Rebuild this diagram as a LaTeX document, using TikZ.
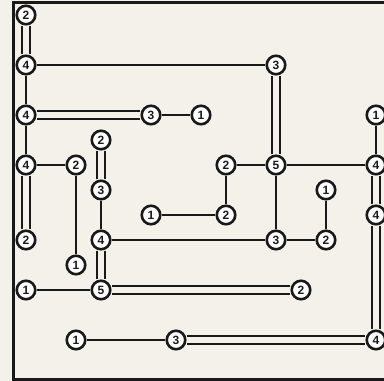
\documentclass[tikz,border=0pt]{standalone}
\usepackage{fontspec}
\setmainfont{Liberation Sans}
\definecolor{paper}{RGB}{243,241,234}
\definecolor{ink}{RGB}{25,25,25}
\tikzset{
  isle/.style={circle,draw=ink,line width=2.6pt,fill=white,minimum size=18.5pt,
    inner sep=0pt,font=\fontsize{12}{12}\selectfont\bfseries,text=ink},
  bridge/.style={draw=ink,line width=1.9pt},
  dbridge/.style={draw=ink,line width=1.9pt,double=paper,double distance=5.4pt}
}

\begin{document}
\begin{tikzpicture}[x=1pt,y=-1pt]
  \clip (0,0) rectangle (384,381);
  \fill[paper] (0,0) rectangle (384,381);
  % frame, right edge lies off the picture
  \draw[ink,line width=3pt] (13.5,2.5) rectangle (396,379.5);
  \begin{scope}[shift={(26,15)},x=25pt,y=-25pt]
    % islands (column, row)
    \node[isle] (a0)  at (0,0)  {2};
    \node[isle] (a2)  at (0,2)  {4};
    \node[isle] (k2)  at (10,2) {3};
    \node[isle] (a4)  at (0,4)  {4};
    \node[isle] (f4)  at (5,4)  {3};
    \node[isle] (h4)  at (7,4)  {1};
    \node[isle] (o4)  at (14,4) {1};
    \node[isle] (d5)  at (3,5)  {2};
    \node[isle] (a6)  at (0,6)  {4};
    \node[isle] (c6)  at (2,6)  {2};
    \node[isle] (i6)  at (8,6)  {2};
    \node[isle] (k6)  at (10,6) {5};
    \node[isle] (o6)  at (14,6) {4};
    \node[isle] (d7)  at (3,7)  {3};
    \node[isle] (m7)  at (12,7) {1};
    \node[isle] (f8)  at (5,8)  {1};
    \node[isle] (i8)  at (8,8)  {2};
    \node[isle] (o8)  at (14,8) {4};
    \node[isle] (a9)  at (0,9)  {2};
    \node[isle] (d9)  at (3,9)  {4};
    \node[isle] (k9)  at (10,9) {3};
    \node[isle] (m9)  at (12,9) {2};
    \node[isle] (c10) at (2,10) {1};
    \node[isle] (a11) at (0,11) {1};
    \node[isle] (d11) at (3,11) {5};
    \node[isle] (l11) at (11,11) {2};
    \node[isle] (c13) at (2,13) {1};
    \node[isle] (g13) at (6,13) {3};
    \node[isle] (o13) at (14,13) {4};
    % bridges
    \path[dbridge] (a0) -- (a2);
    \path[bridge]  (a2) -- (k2);
    \path[bridge]  (a2) -- (a4);
    \path[dbridge] (a4) -- (f4);
    \path[bridge]  (f4) -- (h4);
    \path[dbridge] (k2) -- (k6);
    \path[bridge]  (a4) -- (a6);
    \path[bridge]  (a6) -- (c6);
    \path[dbridge] (a6) -- (a9);
    \path[bridge]  (c6) -- (c10);
    \path[dbridge] (d5) -- (d7);
    \path[bridge]  (d7) -- (d9);
    \path[dbridge] (d9) -- (d11);
    \path[bridge]  (d9) -- (k9);
    \path[bridge]  (k6) -- (k9);
    \path[bridge]  (k9) -- (m9);
    \path[bridge]  (m7) -- (m9);
    \path[bridge]  (i6) -- (k6);
    \path[bridge]  (i6) -- (i8);
    \path[bridge]  (f8) -- (i8);
    \path[bridge]  (k6) -- (o6);
    \path[bridge]  (o4) -- (o6);
    \path[dbridge] (o6) -- (o8);
    \path[dbridge] (o8) -- (o13);
    \path[bridge]  (a11) -- (d11);
    \path[dbridge] (d11) -- (l11);
    \path[bridge]  (c13) -- (g13);
    \path[dbridge] (g13) -- (o13);
  \end{scope}
\end{tikzpicture}
\end{document}
